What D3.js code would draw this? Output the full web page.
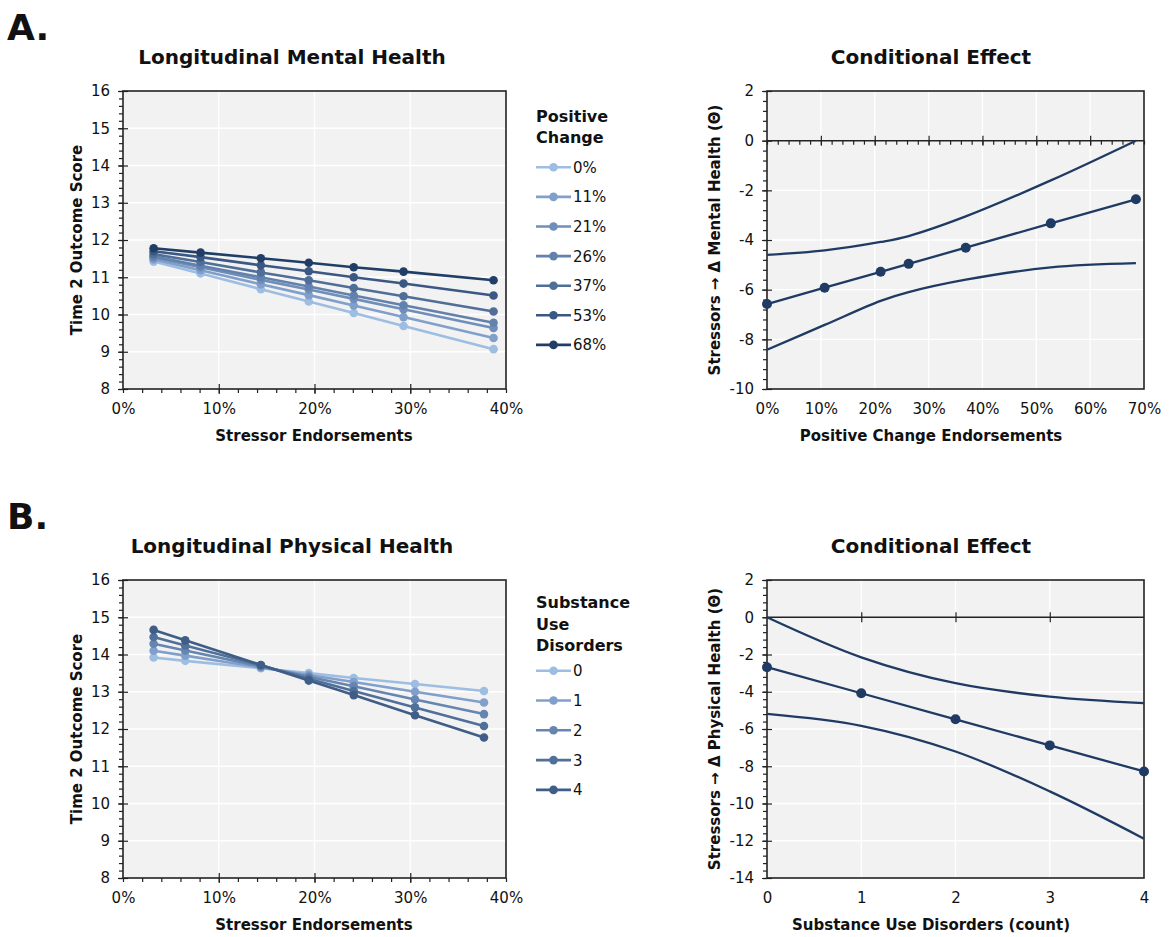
<!DOCTYPE html>
<html>
<head>
<meta charset="utf-8">
<script src="https://cdn.jsdelivr.net/npm/d3@7"></script>
<style>
  body { margin: 0; background: #fff; }
  svg text { font-family: "DejaVu Sans", sans-serif; fill: #111; }
  .panel-letter { font-size: 36px; font-weight: bold; }
  .chart-title { font-size: 20px; font-weight: bold; text-anchor: middle; }
  .axis-title { font-size: 15px; font-weight: bold; text-anchor: middle; }
  .legend-title { font-size: 16px; font-weight: bold; }
  .legend-label { font-size: 15px; }
  .lbl .tick text { font-size: 15px; font-family: "DejaVu Sans", sans-serif; fill: #111; }
  .lbl .tick line { display: none; }
  .tk .tick line { stroke: #222; stroke-width: 1.2; }
</style>
</head>
<body>
<script>
// ---- panel A, left: Longitudinal Mental Health
const mentalStressX = [3.2, 8.1, 14.4, 19.4, 24.1, 29.3, 38.7];   // stressor endorsements (%)
const mentalGroups = ["0%", "11%", "21%", "26%", "37%", "53%", "68%"];
const mentalScores = [
  [11.42, 11.10, 10.68, 10.35, 10.04, 9.69, 9.07],
  [11.48, 11.19, 10.81, 10.52, 10.24, 9.93, 9.37],
  [11.53, 11.27, 10.93, 10.67, 10.42, 10.14, 9.64],
  [11.56, 11.31, 11.00, 10.75, 10.51, 10.25, 9.78],
  [11.62, 11.41, 11.13, 10.92, 10.71, 10.49, 10.08],
  [11.70, 11.54, 11.32, 11.16, 11.00, 10.83, 10.51],
  [11.78, 11.66, 11.51, 11.39, 11.27, 11.15, 10.92]
];
const mentalColors = ["#9dbde3", "#809fcb", "#6f8eba", "#6282ad", "#4f6e98", "#3a5883", "#213e66"];

// ---- panel A, right: conditional effect
const positiveChange = [0, 10.7, 21.1, 26.3, 36.9, 52.7, 68.5];
const mentalEffect = [-6.58, -5.92, -5.28, -4.96, -4.31, -3.33, -2.36];
const mentalUpper = [-4.60, -4.42, -4.08, -3.84, -3.05, -1.60, 0.00];
const mentalLower = [-8.42, -7.42, -6.45, -6.10, -5.60, -5.10, -4.93];

// ---- panel B, left: Longitudinal Physical Health
const physicalStressX = [3.2, 6.5, 14.4, 19.4, 24.1, 30.5, 37.7];
const physicalGroups = ["0", "1", "2", "3", "4"];
const physicalScores = [
  [13.92, 13.83, 13.63, 13.50, 13.37, 13.21, 13.02],
  [14.10, 13.97, 13.65, 13.45, 13.26, 13.00, 12.71],
  [14.29, 14.11, 13.68, 13.40, 13.15, 12.79, 12.40],
  [14.47, 14.24, 13.71, 13.35, 13.02, 12.58, 12.08],
  [14.66, 14.38, 13.72, 13.30, 12.91, 12.37, 11.77]
];
const physicalColors = ["#9dbde3", "#809fcb", "#6685b1", "#506f99", "#3f5d87"];

// ---- panel B, right: conditional effect
const sudCount = [0, 1, 2, 3, 4];
const physicalEffect = [-2.68, -4.08, -5.48, -6.88, -8.28];
const physicalUpper = [0.00, -2.15, -3.54, -4.26, -4.61];
const physicalLower = [-5.19, -5.83, -7.21, -9.35, -11.89];

// tick labels
const scoreTicks = [8, 9, 10, 11, 12, 13, 14, 15, 16];
const stressTicks = [0, 10, 20, 30, 40];
const changeTicks = [0, 10, 20, 30, 40, 50, 60, 70];
const mentalEffectTicks = [-10, -8, -6, -4, -2, 0, 2];
const physicalEffectTicks = [-14, -12, -10, -8, -6, -4, -2, 0, 2];

const effectColor = "#1f3a63";
const svg = d3.select("body").append("svg").attr("width", 1174).attr("height", 937);

function range(a, b, step) {
  return d3.range(0, Math.round((b - a) / step) + 1).map(i => +(a + i * step).toFixed(3));
}

function tickMarks(g, axisFn, scale, values, size, transform) {
  g.append("g").attr("class", "tk").attr("transform", transform || null)
    .call(axisFn(scale).tickValues(values).tickSize(size).tickFormat(""))
    .call(a => a.select(".domain").remove());
}

function panel(cfg) {
  const g = svg.append("g").attr("transform", "translate(" + cfg.left + "," + cfg.top + ")");
  const w = cfg.width, h = cfg.height;
  const x = d3.scaleLinear().domain(cfg.xDomain).range([0, w]);
  const y = d3.scaleLinear().domain(cfg.yDomain).range([h, 0]);

  g.append("rect").attr("width", w).attr("height", h).attr("fill", "#f2f2f2");

  // white grid
  g.selectAll(".vgrid").data(cfg.xGrid).enter().append("line")
    .attr("x1", d => x(d)).attr("x2", d => x(d)).attr("y1", 0).attr("y2", h)
    .attr("stroke", "#fff").attr("stroke-width", 1.3);
  g.selectAll(".hgrid").data(cfg.yGrid).enter().append("line")
    .attr("x1", 0).attr("x2", w).attr("y1", d => y(d)).attr("y2", d => y(d))
    .attr("stroke", "#fff").attr("stroke-width", 1.3);

  // labels
  g.append("g").attr("class", "lbl")
    .call(d3.axisLeft(y).tickValues(cfg.yTicks).tickSize(0).tickPadding(13).tickFormat(d => String(d)))
    .call(a => a.select(".domain").remove());
  g.append("g").attr("class", "lbl").attr("transform", "translate(0," + h + ")")
    .call(d3.axisBottom(x).tickValues(cfg.xTicks).tickSize(0).tickPadding(14).tickFormat(cfg.xFormat))
    .call(a => a.select(".domain").remove());

  // y ticks: major crossing, minor outward
  tickMarks(g, d3.axisLeft, y, cfg.yMinor, 4);
  tickMarks(g, d3.axisLeft, y, cfg.yTicks, 5);
  tickMarks(g, d3.axisRight, y, cfg.yTicks, 5);

  // x axis line (at bottom or at y = 0)
  const xAxisY = cfg.xAxisAt === undefined ? h : y(cfg.xAxisAt);
  const tr = "translate(0," + xAxisY + ")";
  if (cfg.xMinor) tickMarks(g, d3.axisBottom, x, cfg.xMinor, 4, tr);
  tickMarks(g, d3.axisBottom, x, cfg.xTicks.slice(1, -1), 5, tr);
  tickMarks(g, d3.axisTop, x, cfg.xTicks.slice(1, -1), 5, tr);
  if (cfg.xAxisAt !== undefined) {
    g.append("line").attr("x1", 0).attr("x2", w).attr("y1", xAxisY).attr("y2", xAxisY)
      .attr("stroke", "#222").attr("stroke-width", 1.5);
  }

  // frame
  g.append("rect").attr("width", w).attr("height", h)
    .attr("fill", "none").attr("stroke", "#222").attr("stroke-width", 1.6);

  // titles
  svg.append("text").attr("class", "chart-title")
    .attr("x", cfg.titleX).attr("y", cfg.top - 27).text(cfg.title);
  svg.append("text").attr("class", "axis-title")
    .attr("x", cfg.xTitleX).attr("y", cfg.top + h + 52).text(cfg.xTitle);
  svg.append("text").attr("class", "axis-title")
    .attr("transform", "translate(" + cfg.yTitleX + "," + (cfg.top + h / 2) + ") rotate(-90)")
    .text(cfg.yTitle);

  return { g: g, x: x, y: y };
}

function scoreLines(p, xs, rows, colors) {
  const line = d3.line().x((d, i) => p.x(xs[i])).y(d => p.y(d));
  rows.forEach(function (row, k) {
    p.g.append("path").attr("d", line(row)).attr("fill", "none")
      .attr("stroke", colors[k]).attr("stroke-width", 2.6);
    p.g.selectAll(".pt" + k).data(row).enter().append("circle")
      .attr("cx", (d, i) => p.x(xs[i])).attr("cy", d => p.y(d)).attr("r", 4.3)
      .attr("fill", colors[k]);
  });
}

function legend(x0, titleLines, titleY, itemY, step, groups, colors) {
  titleLines.forEach(function (t, i) {
    svg.append("text").attr("class", "legend-title")
      .attr("x", x0).attr("y", titleY[i]).text(t);
  });
  groups.forEach(function (label, i) {
    const cy = itemY + i * step;
    svg.append("line").attr("x1", x0).attr("x2", x0 + 35).attr("y1", cy).attr("y2", cy)
      .attr("stroke", colors[i]).attr("stroke-width", 2.6);
    svg.append("circle").attr("cx", x0 + 17.5).attr("cy", cy).attr("r", 4.3).attr("fill", colors[i]);
    svg.append("text").attr("class", "legend-label")
      .attr("x", x0 + 37).attr("y", cy + 5.5).text(label);
  });
}

function effectLines(p, xs, est, upper, lower) {
  const line = d3.line().x((d, i) => p.x(xs[i])).y(d => p.y(d)).curve(d3.curveCatmullRom.alpha(0.5));
  [upper, lower].forEach(function (band) {
    p.g.append("path").attr("d", line(band)).attr("fill", "none")
      .attr("stroke", effectColor).attr("stroke-width", 2.3);
  });
  p.g.append("path").attr("d", d3.line().x((d, i) => p.x(xs[i])).y(d => p.y(d))(est))
    .attr("fill", "none").attr("stroke", effectColor).attr("stroke-width", 2.3);
  p.g.selectAll(".est").data(est).enter().append("circle")
    .attr("cx", (d, i) => p.x(xs[i])).attr("cy", d => p.y(d)).attr("r", 5)
    .attr("fill", effectColor);
}

const pct = d => d + "%";

// panel letters
svg.append("text").attr("class", "panel-letter").attr("x", 7).attr("y", 40).text("A.");
svg.append("text").attr("class", "panel-letter").attr("x", 7).attr("y", 529).text("B.");

// A left
const pA1 = panel({
  left: 123, top: 91, width: 383, height: 298,
  xDomain: [0, 40], yDomain: [8, 16],
  xTicks: stressTicks, xMinor: range(0, 40, 2), xFormat: pct,
  yTicks: scoreTicks, yMinor: range(8, 16, 0.2),
  xGrid: [10, 20, 30], yGrid: [9, 10, 11, 12, 13, 14, 15],
  title: "Longitudinal Mental Health", titleX: 292,
  xTitle: "Stressor Endorsements", xTitleX: 314,
  yTitle: "Time 2 Outcome Score", yTitleX: 82
});
scoreLines(pA1, mentalStressX, mentalScores, mentalColors);
legend(536, ["Positive", "Change"], [122, 143], 167.3, 29.6, mentalGroups, mentalColors);

// A right
const pA2 = panel({
  left: 767, top: 91, width: 377, height: 298,
  xDomain: [0, 70], yDomain: [-10, 2],
  xTicks: changeTicks, xMinor: range(0, 70, 2), xFormat: pct, xAxisAt: 0,
  yTicks: mentalEffectTicks, yMinor: range(-10, 2, 0.4),
  xGrid: [10, 20, 30, 40, 50, 60], yGrid: [-8, -6, -4, -2],
  title: "Conditional Effect", titleX: 931,
  xTitle: "Positive Change Endorsements", xTitleX: 931,
  yTitle: "Stressors \u2192 \u0394 Mental Health (\u0398)", yTitleX: 720
});
effectLines(pA2, positiveChange, mentalEffect, mentalUpper, mentalLower);

// B left
const pB1 = panel({
  left: 123, top: 580, width: 383, height: 298,
  xDomain: [0, 40], yDomain: [8, 16],
  xTicks: stressTicks, xMinor: range(0, 40, 2), xFormat: pct,
  yTicks: scoreTicks, yMinor: range(8, 16, 0.2),
  xGrid: [10, 20, 30], yGrid: [9, 10, 11, 12, 13, 14, 15],
  title: "Longitudinal Physical Health", titleX: 292,
  xTitle: "Stressor Endorsements", xTitleX: 314,
  yTitle: "Time 2 Outcome Score", yTitleX: 82
});
scoreLines(pB1, physicalStressX, physicalScores, physicalColors);
legend(536, ["Substance", "Use", "Disorders"], [608, 630, 651], 670.7, 29.8, physicalGroups, physicalColors);

// B right
const pB2 = panel({
  left: 767, top: 580, width: 377, height: 298,
  xDomain: [0, 4], yDomain: [-14, 2],
  xTicks: sudCount, xFormat: d => String(d), xAxisAt: 0,
  yTicks: physicalEffectTicks, yMinor: range(-14, 2, 0.4),
  xGrid: [1, 2, 3], yGrid: [-12, -10, -8, -6, -4, -2],
  title: "Conditional Effect", titleX: 931,
  xTitle: "Substance Use Disorders (count)", xTitleX: 931,
  yTitle: "Stressors \u2192 \u0394 Physical Health (\u0398)", yTitleX: 720
});
effectLines(pB2, sudCount, physicalEffect, physicalUpper, physicalLower);
</script>
</body>
</html>
